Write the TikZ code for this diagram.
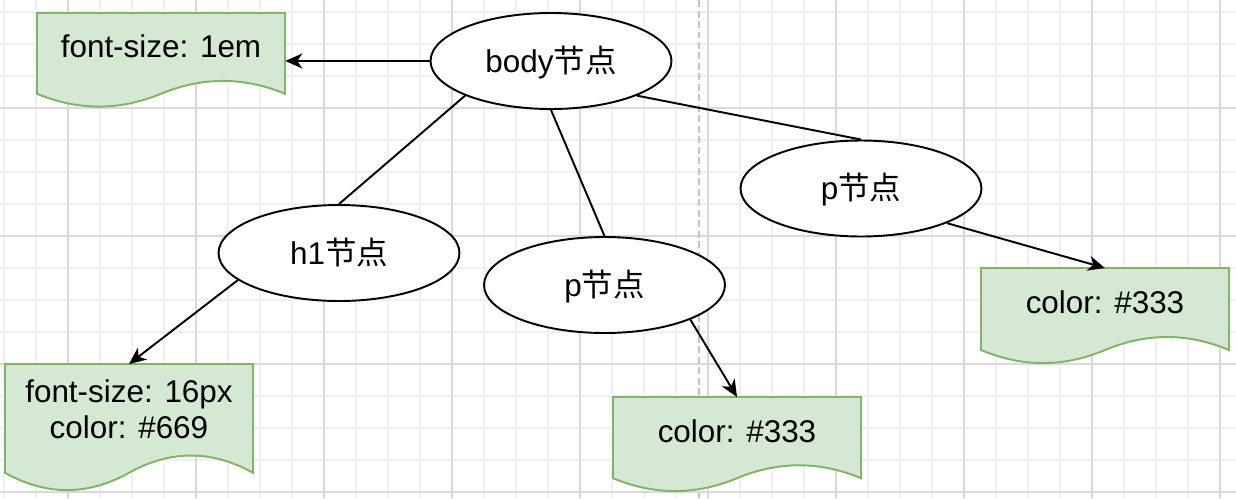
\documentclass[tikz,border=0pt]{standalone}
\usepackage{fontspec}
\setmainfont{Liberation Sans}
\newfontfamily\cjk{Noto Sans CJK SC}
\usetikzlibrary{shapes.geometric,arrows.meta}
\definecolor{docfill}{HTML}{D5E8D4}
\definecolor{docdraw}{HTML}{82B366}
\definecolor{gridminor}{HTML}{F0F0F0}
\definecolor{gridmajor}{HTML}{D9D9D9}
\definecolor{guidegray}{HTML}{C4C4C4}
\tikzstyle{domtree}=[x=0.02cm,y=-0.02cm,font=\fontsize{17.9pt}{20.5pt}\selectfont]
\tikzstyle{minor}=[draw=gridminor, line width=0.03cm]
\tikzstyle{major}=[draw=gridmajor, line width=0.03cm]
\tikzstyle{guide}=[draw=guidegray, line width=0.04cm, dash pattern=on 0.14cm off 0.07cm]
\tikzstyle{elem}=[ellipse, draw=black, line width=1.1pt, fill=white, minimum width=4.82cm, minimum height=1.92cm, inner sep=0pt, text height=0.57cm, text depth=0.13cm]
\tikzstyle{doc}=[rectangle, minimum width=4.96cm, inner sep=0pt, anchor=north, align=center]
\tikzstyle{docline}=[fill=docfill, draw=docdraw, line width=1.1pt]
\tikzstyle{edge}=[line width=1.1pt, -{Stealth[length=0.34cm,width=0.3cm,inset=0.1cm]}]
\tikzstyle{link}=[line width=1.1pt]
% name, left, top, height, text
\newcommand{\docbox}[5]{%
	\begin{scope}[shift={(#2,#3)}]
		\draw[docline] (0,0) -- (248,0) -- (248,{0.85*#4})
			.. controls (206.7,{0.67*#4}) and (165.3,{0.67*#4}) .. (124,{0.85*#4})
			.. controls (82.7,{1.03*#4}) and (41.3,{1.03*#4}) .. (0,{0.85*#4}) -- cycle;
	\end{scope}
	\draw ({#2+124},#3) node[doc, minimum height={0.7*#4*0.02cm}] (#1) {#5};
}

\begin{document}
\begin{tikzpicture}[domtree]
				\useasboundingbox[fill=white] (0,0) rectangle (1236,498);
				
				%The grid
				\foreach \gx in {4,36,...,1220} \draw[minor] (\gx,0) -- (\gx,498);
				\foreach \gy in {12,44,...,492} \draw[minor] (0,\gy) -- (1236,\gy);
				\foreach \gx in {68,196,...,1220} \draw[major] (\gx,0) -- (\gx,498);
				\foreach \gy in {108,236,364,492} \draw[major] (0,\gy) -- (1236,\gy);
				\draw[guide] (699,0) -- (699,498);
				
				%The tree
				\draw (551,61) node[elem] (body) {body{\cjk 节点}};
				\draw (339,253) node[elem] (h1) {h1{\cjk 节点}};
				\draw (604.5,285) node[elem] (pmid) {p{\cjk 节点}};
				\draw (861,188.5) node[elem] (pright) {p{\cjk 节点}};
				
				%The styles
				\docbox{sbody}{37}{13}{95}{font-size: 1em}
				\docbox{sh1}{5}{364}{128}{font-size: 16px\\color: \#669}
				\docbox{spmid}{613}{397}{95.5}{color: \#333}
				\docbox{spright}{981}{268}{96.5}{color: \#333}
				
				\draw[link] (body.south west) -- (h1.north);
				\draw[link] (body.south) -- (pmid.north);
				\draw[link] (body.south east) -- (pright.north);
				
				\draw[edge] (body.west) -- (body.west -| sbody.east);
				\draw[edge] (h1.195) -- (sh1.north);
				\draw[edge] (pmid.south east) -- (spmid.north);
				\draw[edge] (pright.south east) -- (spright.north);
			\end{tikzpicture}
\end{document}
